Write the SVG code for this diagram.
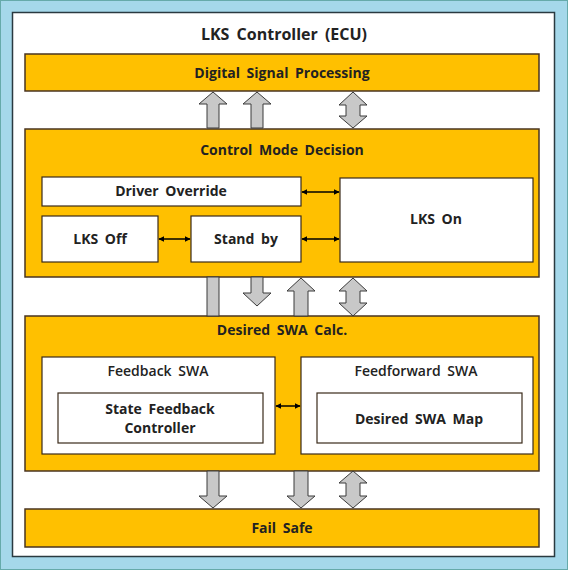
<svg xmlns="http://www.w3.org/2000/svg" width="568" height="570" viewBox="0 0 568 570">
<defs>
<marker id="ah" viewBox="0 0 10 10" refX="9" refY="5" markerWidth="4" markerHeight="4" orient="auto-start-reverse"><path d="M0,0 L10,5 L0,10 Z" fill="#000"/></marker>
<style>
.ybox{fill:#FFC000;stroke:#4a3520;stroke-width:1.5}
.wbox{fill:#fff;stroke:#3a2a1a;stroke-width:1.2}
.t{font-family:"Open Sans","Noto Sans",sans-serif;font-size:14px;font-weight:bold;fill:#222;text-anchor:middle;word-spacing:3px}
.r{font-weight:600}
.blk{fill:#C8C8C8;stroke:#3a3a3a;stroke-width:1}
.ln{stroke:#000;stroke-width:1.5;fill:none;marker-start:url(#ah);marker-end:url(#ah)}
</style>
</defs>
<rect x="0" y="0" width="568" height="570" fill="#A5D8EA"/>
<rect x="0.5" y="0.5" width="567" height="569" fill="none" stroke="#6aa" stroke-width="1"/>
<rect x="12.5" y="12.5" width="542" height="544" fill="#fff" stroke="#2a3a40" stroke-width="1.5"/>
<text class="t" x="284" y="40" style="font-size:16px">LKS Controller (ECU)</text>

<g id="dsp"><rect class="ybox" x="25" y="54" width="514" height="37"/><text class="t" x="282" y="78">Digital Signal Processing</text></g>

<g id="cmd"><rect class="ybox" x="25" y="129" width="514" height="148"/><text class="t" x="282" y="155">Control Mode Decision</text></g>
<g id="driver"><rect class="wbox" x="42" y="177" width="259" height="29"/><text class="t" x="171" y="196">Driver Override</text></g>
<g id="lksoff"><rect class="wbox" x="42" y="216" width="116" height="46"/><text class="t" x="100" y="244">LKS Off</text></g>
<g id="standby"><rect class="wbox" x="191" y="216" width="110" height="46"/><text class="t" x="246" y="244">Stand by</text></g>
<g id="lkson"><rect class="wbox" x="340" y="178" width="193" height="84"/><text class="t" x="436" y="224">LKS On</text></g>

<g id="swa"><rect class="ybox" x="25" y="316" width="514" height="155"/><text class="t" x="282" y="335">Desired SWA Calc.</text></g>
<g id="fb"><rect class="wbox" x="42" y="357" width="233" height="97"/><text class="t r" x="158" y="376">Feedback SWA</text></g>
<g id="sfc"><rect class="wbox" x="58" y="393" width="205" height="50"/><text class="t" x="160" y="414">State Feedback</text><text class="t" x="160" y="433">Controller</text></g>
<g id="ff"><rect class="wbox" x="301" y="357" width="232" height="97"/><text class="t r" x="416" y="376">Feedforward SWA</text></g>
<g id="map"><rect class="wbox" x="317" y="393" width="205" height="50"/><text class="t" x="419" y="424">Desired SWA Map</text></g>

<g id="failsafe"><rect class="ybox" x="25" y="509" width="514" height="38"/><text class="t" x="282" y="533">Fail Safe</text></g>

<g id="connectors">
<path class="blk" d="M213,92 L227,104 L219,104 L219,128 L207,128 L207,104 L199,104 Z"/>
<path class="blk" d="M257,92 L271,104 L263,104 L263,128 L251,128 L251,104 L243,104 Z"/>
<path class="blk" d="M353,92 L367,105 L360,105 L360,116 L367,116 L353,128 L339,116 L346,116 L346,105 L339,105 Z"/>

<rect class="blk" x="207" y="277" width="12" height="39"/>
<path class="blk" d="M251,277 L263,277 L263,293 L271,293 L257,306 L243,293 L251,293 Z"/>
<path class="blk" d="M301,278 L315,291 L308,291 L308,316 L294,316 L294,291 L287,291 Z"/>
<path class="blk" d="M353,278 L367,291 L360,291 L360,303 L367,303 L353,316 L339,303 L346,303 L346,291 L339,291 Z"/>

<path class="blk" d="M207,471 L219,471 L219,496 L227,496 L213,508 L199,496 L207,496 Z"/>
<path class="blk" d="M294,471 L308,471 L308,496 L315,496 L301,508 L287,496 L294,496 Z"/>
<path class="blk" d="M353,471 L367,483 L360,483 L360,496 L367,496 L353,508 L339,496 L346,496 L346,483 L339,483 Z"/>

<line class="ln" x1="302" y1="192" x2="339" y2="192"/>
<line class="ln" x1="302" y1="239" x2="339" y2="239"/>
<line class="ln" x1="159" y1="239" x2="190" y2="239"/>
<line class="ln" x1="276" y1="406" x2="300" y2="406"/>
</g>
</svg>
